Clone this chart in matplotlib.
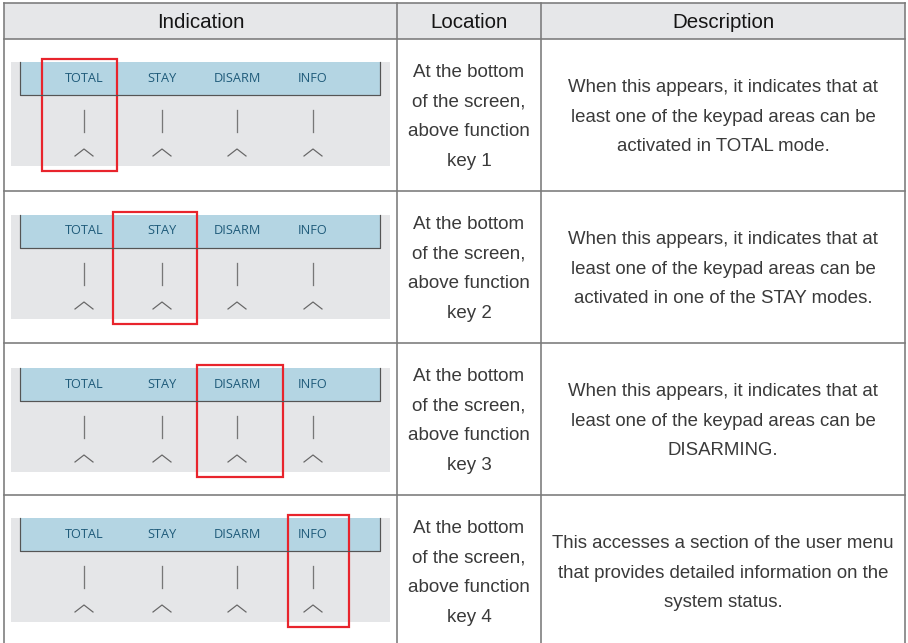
import matplotlib.pyplot as plt
from matplotlib.patches import Rectangle

# table content
headers = ["Indication", "Location", "Description"]
key_labels = ["TOTAL", "STAY", "DISARM", "INFO"]
locations = [
    "At the bottom\nof the screen,\nabove function\nkey 1",
    "At the bottom\nof the screen,\nabove function\nkey 2",
    "At the bottom\nof the screen,\nabove function\nkey 3",
    "At the bottom\nof the screen,\nabove function\nkey 4",
]
descriptions = [
    "When this appears, it indicates that at\nleast one of the keypad areas can be\nactivated in TOTAL mode.",
    "When this appears, it indicates that at\nleast one of the keypad areas can be\nactivated in one of the STAY modes.",
    "When this appears, it indicates that at\nleast one of the keypad areas can be\nDISARMING.",
    "This accesses a section of the user menu\nthat provides detailed information on the\nsystem status.",
]
highlight = [0, 1, 2, 3]

# layout in pixels
col_x = [4, 397, 541, 905]
row_y = [3, 39, 191, 343, 495, 647]
row_off = [0, 153, 306, 456]
key_x = [84, 162, 237, 313]
box_x = [(42, 117), (113, 197), (197, 283), (288, 349)]

line_c = "#7a7a7a"
text_c = "#3a3a3a"
px = 0.72  # 1 px in points at 100 dpi

fig = plt.figure(figsize=(9.08, 6.43), dpi=100)
ax = fig.add_axes([0, 0, 1, 1])
ax.set_xlim(0, 908)
ax.set_ylim(643, 0)
ax.axis("off")

# header background
ax.add_patch(Rectangle((col_x[0], row_y[0]), col_x[-1] - col_x[0], row_y[1] - row_y[0],
                       facecolor="#e6e7e9", edgecolor="none"))

# grid
for x in col_x:
    ax.plot([x, x], [row_y[0], 643], color=line_c, lw=1.6 * px)
for y in row_y[:-1]:
    ax.plot([col_x[0], col_x[-1]], [y, y], color=line_c, lw=1.6 * px)

for i, h in enumerate(headers):
    ax.text((col_x[i] + col_x[i + 1]) / 2, 22, h, ha="center", va="center",
            fontsize=14.8, color="#151515", family="Liberation Sans")

for r in range(4):
    yc = (row_y[r + 1] + row_y[r + 2]) / 2
    off = row_off[r]
    # keypad panel
    ax.add_patch(Rectangle((11, 62 + off), 379, 104, facecolor="#e5e6e8", edgecolor="none"))
    ax.add_patch(Rectangle((20, 62 + off), 360, 33, facecolor="#b4d5e3", edgecolor="none"))
    ax.plot([20, 20, 380, 380], [62 + off, 95 + off, 95 + off, 62 + off], color="#555555", lw=1.2 * px)
    for k, lab in enumerate(key_labels):
        ax.text(key_x[k], 78 + off, lab, ha="center", va="center", fontsize=9.2,
                color="#1f5b7a", family="Open Sans")
        ax.plot([key_x[k], key_x[k]], [110 + off, 132 + off], color="#777777", lw=1.3 * px)
        ax.plot([key_x[k] - 9, key_x[k], key_x[k] + 9], [156 + off, 149 + off, 156 + off],
                color="#666666", lw=1.2 * px)
    # red highlight
    bx0, bx1 = box_x[highlight[r]]
    ax.add_patch(Rectangle((bx0, 59 + off), bx1 - bx0, 112, facecolor="none",
                           edgecolor="#e8242c", lw=2.2 * px))
    ax.text((col_x[1] + col_x[2]) / 2, yc + 2, locations[r], ha="center", va="center",
            fontsize=13.5, color=text_c, family="Liberation Sans", linespacing=1.95)
    ax.text((col_x[2] + col_x[3]) / 2, yc + 2, descriptions[r], ha="center", va="center",
            fontsize=13.4, color=text_c, family="Liberation Sans", linespacing=1.95)

fig.savefig("out.png", dpi=100)
